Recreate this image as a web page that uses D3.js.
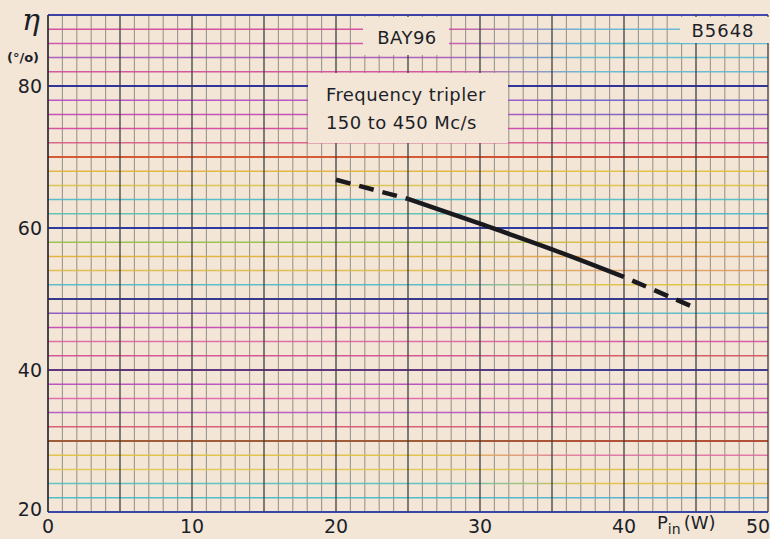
<!DOCTYPE html>
<html>
<head>
<meta charset="utf-8">
<script src="https://cdn.jsdelivr.net/npm/d3@7"></script>
<style>
  html, body { margin: 0; padding: 0; background: #f3e6d7; }
  svg { display: block; }
</style>
</head>
<body>
<div id="wrapper"></div>
<script>
// data
const powerIn = [20, 25, 30, 35, 40, 45]
const efficiency = [66.8, 64.1, 60.6, 57.0, 53.1, 48.7]
const xTicks = [0, 10, 20, 30, 40, 50]
const yTicks = [20, 40, 60, 80]
const typeLabel = "BAY96"
const codeLabel = "B5648"
const noteLines = ["Frequency tripler", "150 to 450 Mc/s"]

function drawChart() {
  const dimensions = { width: 770, height: 539 }
  const paper = "#f3e6d7"
  const ink = "#1d1f28"

  const svg = d3.select("#wrapper")
    .append("svg")
      .attr("width", dimensions.width)
      .attr("height", dimensions.height)
      .style("font-family", "'DejaVu Sans', sans-serif")

  svg.append("rect")
      .attr("width", dimensions.width)
      .attr("height", dimensions.height)
      .attr("fill", paper)

  // scales
  const xScale = d3.scaleLinear().domain([0, 50]).range([48, 768])
  const yScale = d3.scaleLinear().domain([20, 90]).range([512, 15])

  // graph paper colours, left -> right (printed rainbow paper)
  const lineColours = {
    90: ["#3438a2", "#3a40b0"], 88: ["#d2449c", "#5fb6d6"], 86: ["#c84aa8", "#52b8cf"],
    84: ["#a553ba", "#57b9cc"], 82: ["#d24a9a", "#60b8d0"], 80: ["#262d94", "#262d94"],
    78: ["#b449c0", "#6a5cc8"], 76: ["#c243b2", "#7a58c4"], 74: ["#d4429c", "#c040b8"],
    72: ["#d65c82", "#d84a96"], 70: ["#d3542e", "#c8402e"], 68: ["#e3b23a", "#e2c040"],
    66: ["#d8c24a", "#e0c040"], 64: ["#4bb8c8", "#4bbcc6"], 62: ["#56c0b4", "#4ab8cc"],
    60: ["#2430a0", "#2430a0"], 58: ["#92c048", "#e0b840"], 56: ["#e0b034", "#e09a50"],
    54: ["#e2b844", "#e0a060"], 52: ["#52b8c8", "#e0c040"], 50: ["#2c3088", "#2c3088"],
    48: ["#8452c0", "#56b8c8"], 46: ["#c442b2", "#6a60c4"], 44: ["#e062a2", "#d850a0"],
    42: ["#d24a92", "#d25060"], 40: ["#5b2f78", "#3a3490"], 38: ["#b24ac0", "#8a58c4"],
    36: ["#e262aa", "#d450b0"], 34: ["#b452c0", "#c04aa8"], 32: ["#d85270", "#d85a88"],
    30: ["#9a5530", "#b04a30"], 28: ["#e0c040", "#e070a4"], 26: ["#e0c852", "#e0c040"],
    24: ["#52c0c0", "#e0c040"], 22: ["#42b8c8", "#4ab0d0"], 20: ["#3040a4", "#3040a4"]
  }

  const defs = svg.append("defs")
  const hValues = d3.range(20, 91, 2)
  hValues.forEach(v => {
    const g = defs.append("linearGradient")
        .attr("id", `h${v}`)
        .attr("gradientUnits", "userSpaceOnUse")
        .attr("x1", xScale(0)).attr("x2", xScale(50))
        .attr("y1", 0).attr("y2", 0)
    g.append("stop").attr("offset", "0%").attr("stop-color", lineColours[v][0])
    g.append("stop").attr("offset", "55%").attr("stop-color", lineColours[v][0])
    g.append("stop").attr("offset", "75%").attr("stop-color", lineColours[v][1])
    g.append("stop").attr("offset", "100%").attr("stop-color", lineColours[v][1])
  })

  const grid = svg.append("g")
  const xLines = d3.range(0, 51, 1)

  // minor vertical lines, every 1 W
  grid.selectAll("line.vminor")
    .data(xLines.filter(d => d % 5 !== 0))
    .join("line")
      .attr("class", "vminor")
      .attr("x1", d => xScale(d)).attr("x2", d => xScale(d))
      .attr("y1", yScale(90)).attr("y2", yScale(20))
      .attr("stroke", "#88827c")
      .attr("stroke-width", 1.1)
      .attr("opacity", 0.8)

  // horizontal lines, every 2 %, heavier every 10 %
  grid.selectAll("line.h")
    .data(hValues)
    .join("line")
      .attr("class", "h")
      .attr("x1", xScale(0)).attr("x2", xScale(50))
      .attr("y1", d => yScale(d)).attr("y2", d => yScale(d))
      .attr("stroke", d => `url(#h${d})`)
      .attr("stroke-width", d => d % 10 === 0 ? 2 : 1.5)
      .attr("opacity", d => d % 10 === 0 ? 0.95 : 0.9)

  // major vertical lines, every 5 W
  grid.selectAll("line.vmajor")
    .data(xLines.filter(d => d % 5 === 0))
    .join("line")
      .attr("class", "vmajor")
      .attr("x1", d => xScale(d)).attr("x2", d => xScale(d))
      .attr("y1", yScale(90)).attr("y2", yScale(20))
      .attr("stroke", d => d === 0 ? "#2b2a30" : "#3e3c3c")
      .attr("stroke-width", d => d === 0 ? 2 : 1.5)
      .attr("opacity", 0.85)

  // label boxes (paper showing through the grid)
  const boxes = [
    { x0: 363, x1: 449, y0: 17, y1: 55 },
    { x0: 308, x1: 508, y0: 73, y1: 143 },
    { x0: 680, x1: 770, y0: 17, y1: 43 }
  ]
  svg.selectAll("rect.box")
    .data(boxes)
    .join("rect")
      .attr("class", "box")
      .attr("x", d => d.x0).attr("y", d => d.y0)
      .attr("width", d => d.x1 - d.x0).attr("height", d => d.y1 - d.y0)
      .attr("fill", paper)

  svg.append("text")
      .attr("x", 407).attr("y", 44)
      .attr("text-anchor", "middle")
      .attr("font-size", 18)
      .attr("letter-spacing", 0.5)
      .attr("fill", ink)
      .text(typeLabel)

  svg.append("text")
      .attr("x", 723).attr("y", 37)
      .attr("text-anchor", "middle")
      .attr("font-size", 18)
      .attr("letter-spacing", 1)
      .attr("fill", ink)
      .text(codeLabel)

  svg.selectAll("text.note")
    .data(noteLines)
    .join("text")
      .attr("class", "note")
      .attr("x", 326)
      .attr("y", (d, i) => 101 + i * 28)
      .attr("font-size", 18)
      .attr("letter-spacing", 0.4)
      .attr("fill", ink)
      .text(d => d)

  // efficiency curve: dashed ends, solid middle
  const points = powerIn.map((p, i) => [p, efficiency[i]])
  const line = d3.line()
      .x(d => xScale(d[0]))
      .y(d => yScale(d[1]))
      .curve(d3.curveMonotoneX)

  const pieces = [
    { pts: points.slice(0, 2), dash: "15 9", offset: 0 },
    { pts: points.slice(1, 5), dash: null, offset: 0 },
    { pts: points.slice(4, 6), dash: "15 9", offset: 15 }
  ]
  svg.selectAll("path.curve")
    .data(pieces)
    .join("path")
      .attr("class", "curve")
      .attr("d", d => line(d.pts))
      .attr("fill", "none")
      .attr("stroke", "#1a1a1e")
      .attr("stroke-width", 4.5)
      .attr("stroke-dasharray", d => d.dash)
      .attr("stroke-dashoffset", d => d.offset)

  // axis labels
  svg.selectAll("text.ytick")
    .data(yTicks)
    .join("text")
      .attr("class", "ytick")
      .attr("x", 42)
      .attr("y", d => yScale(d))
      .attr("dy", d => d === 20 ? "0.2em" : "0.36em")
      .attr("text-anchor", "end")
      .attr("font-size", 19)
      .attr("fill", ink)
      .text(d => d)

  svg.selectAll("text.xtick")
    .data(xTicks)
    .join("text")
      .attr("class", "xtick")
      .attr("x", d => xScale(d) + (d === 50 ? -10 : 0))
      .attr("y", 533)
      .attr("text-anchor", "middle")
      .attr("font-size", 19)
      .attr("fill", ink)
      .text(d => d)

  svg.append("text")
      .attr("x", 22).attr("y", 30)
      .attr("font-family", "'DejaVu Serif', serif")
      .attr("font-style", "italic")
      .attr("font-size", 30)
      .attr("fill", ink)
      .text("η")

  svg.append("text")
      .attr("x", 7).attr("y", 62)
      .attr("font-size", 13)
      .attr("font-weight", "bold")
      .attr("fill", ink)
      .text("(°/o)")

  const pin = svg.append("text")
      .attr("x", 657).attr("y", 529)
      .attr("font-size", 18)
      .attr("fill", ink)
  pin.append("tspan").text("P")
  pin.append("tspan").attr("dy", 5).attr("font-size", 14).text("in")
  pin.append("tspan").attr("dy", -5).attr("dx", 3).text("(W)")
}
drawChart()
</script>
</body>
</html>
